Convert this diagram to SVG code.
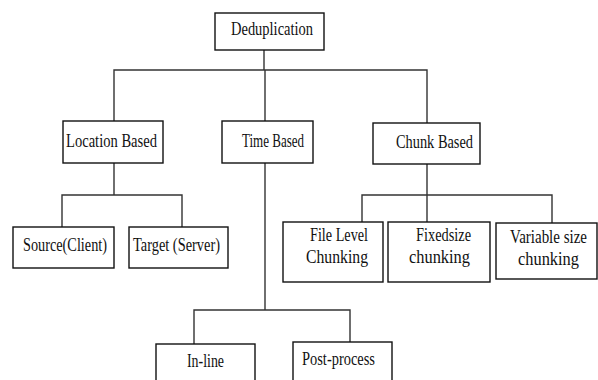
<svg xmlns="http://www.w3.org/2000/svg" width="598" height="380" viewBox="0 0 598 380">
  <style>
    .box { fill: #ffffff; stroke: #111111; stroke-width: 1.4; }
    .lbl { font-family: "Liberation Serif", "Times New Roman", serif; font-size: 18.5px; fill: #111111; }
    .wire { fill: none; stroke: #333333; stroke-width: 1.4; }
  </style>
  <rect width="598" height="380" fill="#ffffff"/>

  <!-- connectors -->
  <g id="connectors">
    <path class="wire" d="M264 50 V70"/>
    <path class="wire" d="M114 121 V70 H427 V123"/>
    <path class="wire" d="M265 70 V121"/>
    <path class="wire" d="M114 163 V195"/>
    <path class="wire" d="M62 227 V195 H182 V227"/>
    <path class="wire" d="M427 164 V222"/>
    <path class="wire" d="M362 222 V195 H552 V223"/>
    <path class="wire" d="M265 163 V310"/>
    <path class="wire" d="M194 344 V310 H350 V342"/>
  </g>

  <g id="dedup">
    <rect class="box" x="215" y="13" width="109" height="37"/>
    <text class="lbl" x="231" y="35" textLength="82" lengthAdjust="spacingAndGlyphs">Deduplication</text>
  </g>

  <g id="location">
    <rect class="box" x="63" y="121" width="100" height="42"/>
    <text class="lbl" x="66" y="147" textLength="91" lengthAdjust="spacingAndGlyphs">Location Based</text>
  </g>

  <g id="time">
    <rect class="box" x="222" y="121" width="91" height="42"/>
    <text class="lbl" x="242" y="147" textLength="62" lengthAdjust="spacingAndGlyphs">Time Based</text>
  </g>

  <g id="chunk">
    <rect class="box" x="373" y="123" width="107" height="41"/>
    <text class="lbl" x="396" y="148" textLength="77" lengthAdjust="spacingAndGlyphs">Chunk Based</text>
  </g>

  <g id="source">
    <rect class="box" x="13" y="227" width="101" height="41"/>
    <text class="lbl" x="23" y="251" textLength="84" lengthAdjust="spacingAndGlyphs">Source(Client)</text>
  </g>

  <g id="target">
    <rect class="box" x="129" y="227" width="99" height="41"/>
    <text class="lbl" x="133" y="251" textLength="87" lengthAdjust="spacingAndGlyphs">Target (Server)</text>
  </g>

  <g id="file-level">
    <rect class="box" x="283" y="222" width="100" height="60"/>
    <text class="lbl" x="310" y="241" textLength="58" lengthAdjust="spacingAndGlyphs">File Level</text>
    <text class="lbl" x="306" y="263" textLength="62" lengthAdjust="spacingAndGlyphs">Chunking</text>
  </g>

  <g id="fixedsize">
    <rect class="box" x="388" y="222" width="102" height="60"/>
    <text class="lbl" x="416" y="241" textLength="55" lengthAdjust="spacingAndGlyphs">Fixedsize</text>
    <text class="lbl" x="409" y="263" textLength="61" lengthAdjust="spacingAndGlyphs">chunking</text>
  </g>

  <g id="variable">
    <rect class="box" x="496" y="223" width="101" height="56"/>
    <text class="lbl" x="510" y="243" textLength="77" lengthAdjust="spacingAndGlyphs">Variable size</text>
    <text class="lbl" x="518" y="265" textLength="61" lengthAdjust="spacingAndGlyphs">chunking</text>
  </g>

  <g id="inline">
    <rect class="box" x="156" y="344" width="99" height="50"/>
    <text class="lbl" x="187" y="367" textLength="37" lengthAdjust="spacingAndGlyphs">In-line</text>
  </g>

  <g id="postprocess">
    <rect class="box" x="293" y="342" width="99" height="52"/>
    <text class="lbl" x="302" y="365" textLength="73" lengthAdjust="spacingAndGlyphs">Post-process</text>
  </g>
</svg>
